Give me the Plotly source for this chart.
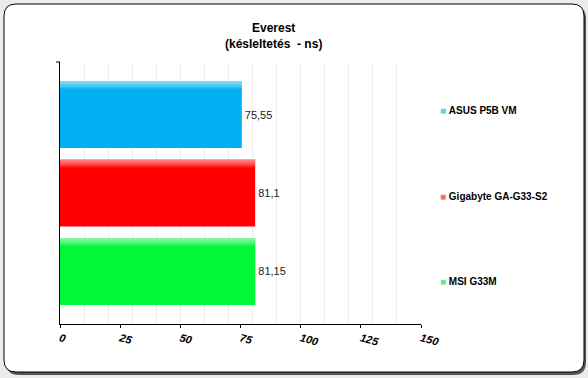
import plotly.graph_objects as go

categories = ["ASUS P5B VM", "Gigabyte GA-G33-S2", "MSI G33M"]
values = [75.55, 81.1, 81.15]
value_labels = ["75,55", "81,1", "81,15"]
bar_colors = ["#00b0f0", "#ff0000", "#00f838"]
legend_colors = ["#6ccbe8", "#f07070", "#6ce88c"]
tick_vals = [0, 25, 50, 75, 100, 125, 150]

W, H = 588, 378
L, R, T, B = 60, 421, 62, 324

def px(x):
    return (x - L) / (R - L)

def py(y):
    return (B - y) / (B - T)

def rrect(x0, y0, x1, y1, r):
    p = f"M {px(x0+r)},{py(y0)} L {px(x1-r)},{py(y0)} Q {px(x1)},{py(y0)} {px(x1)},{py(y0+r)} "
    p += f"L {px(x1)},{py(y1-r)} Q {px(x1)},{py(y1)} {px(x1-r)},{py(y1)} "
    p += f"L {px(x0+r)},{py(y1)} Q {px(x0)},{py(y1)} {px(x0)},{py(y1-r)} "
    p += f"L {px(x0)},{py(y0+r)} Q {px(x0)},{py(y0)} {px(x0+r)},{py(y0)} Z"
    return p

fig = go.Figure()
bw = 0.853
fig.add_trace(go.Bar(
    y=categories, x=values, orientation="h",
    marker=dict(color=bar_colors, line=dict(width=0)),
    width=bw, text=value_labels, textposition="outside",
    textfont=dict(family="Liberation Sans, Arial", size=11, color="#222"),
    cliponaxis=False, hoverinfo="skip",
))
# lighter top gradient (stacked translucent strips, one pixel each ~0.0127 units)
step = 1 / 78.5
n_steps = 8
for k in range(1, n_steps + 1):
    fig.add_trace(go.Bar(
        y=categories, x=values, orientation="h",
        marker=dict(color="rgba(255,255,255,0.09)", line=dict(width=0)),
        width=step * k, offset=-bw / 2, hoverinfo="skip",
    ))

fig.update_layout(
    width=W, height=H,
    margin=dict(l=L, r=W - R, t=T, b=H - B, pad=0),
    paper_bgcolor="#ececec", plot_bgcolor="rgba(0,0,0,0)",
    barmode="overlay", showlegend=False,
    font=dict(family="Liberation Sans, Arial", color="#000"),
)
fig.update_xaxes(
    range=[0, 150], tickvals=tick_vals, ticktext=[str(v) for v in tick_vals],
    tickangle=15, tickfont=dict(family="Liberation Sans, Arial", size=11, weight="bold", style="italic"),
    showline=True, linecolor="#000", linewidth=1,
    ticks="outside", ticklen=3, tickcolor="#000",
    showgrid=False, zeroline=False,
    minor=dict(dtick=10, tick0=0, showgrid=True, gridcolor="#ededed", gridwidth=1, ticks=""),
)
fig.update_yaxes(
    type="category", range=[2.669, -0.669], showticklabels=False,
    showline=True, linecolor="#000", linewidth=1, ticks="", showgrid=False, zeroline=False,
)

# panel with shadow
fig.add_shape(type="path", xref="paper", yref="paper", path=rrect(6, 6, 586, 375, 13),
              fillcolor="#555", line=dict(width=0), layer="below")
fig.add_shape(type="path", xref="paper", yref="paper", path=rrect(4, 4, 584, 372, 12),
              fillcolor="#ffffff", line=dict(color="#000", width=1), layer="below")
# small top tick on y axis
fig.add_shape(type="line", xref="paper", yref="paper", x0=px(56), x1=px(60), y0=1, y1=1,
              line=dict(color="#000", width=1))

fig.add_annotation(text="<b>Everest<br>(késleltetés\u00a0 - ns)</b>", xref="paper", yref="paper",
                   x=px(273), y=py(36), xanchor="center", yanchor="middle", showarrow=False,
                   font=dict(family="Liberation Sans, Arial", size=12, color="#000"))

legend_y = [110, 196, 281]
for name, c, yy in zip(categories, legend_colors, legend_y):
    fig.add_annotation(text=f"<span style='color:{c}'>■</span> <b>{name}</b>", xref="paper", yref="paper",
                       x=px(438), y=py(yy), xanchor="left", yanchor="middle", showarrow=False,
                       font=dict(family="Liberation Sans, Arial", size=10, color="#000"))

fig.write_html("out.html", config={"displayModeBar": False},
               post_script="document.body.style.margin='0';document.body.style.overflow='hidden';")
